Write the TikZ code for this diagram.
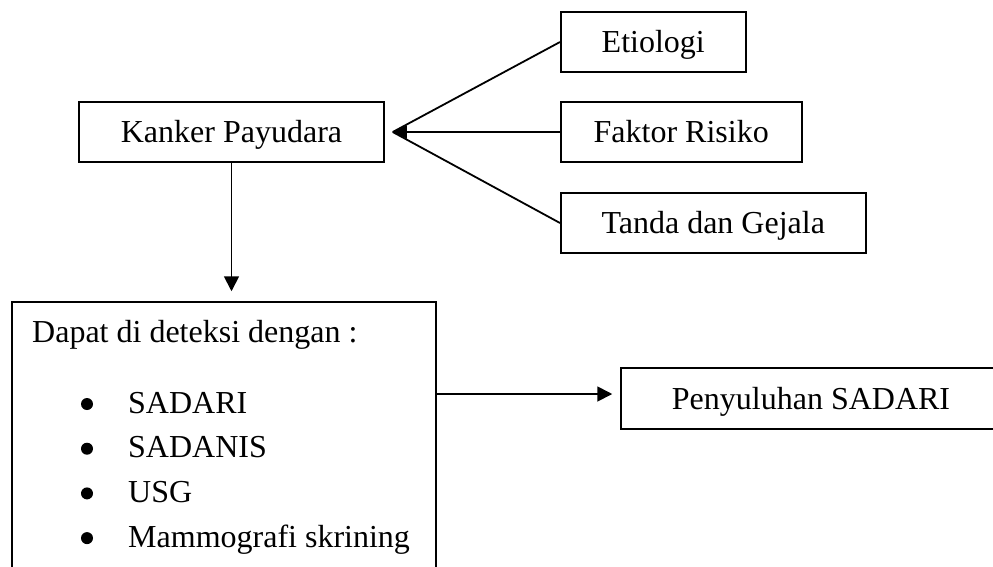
\documentclass[tikz,border=0pt]{standalone}
\usepackage{fontspec}
\setmainfont{Liberation Serif}
\usepackage{tikz}
\usetikzlibrary{arrows.meta}

\tikzset{
    box/.style={draw, line width=1.5pt, inner sep=0pt, minimum height=60pt,
        font=\fontsize{32}{38}\selectfont, text height=21pt, text depth=0pt},
    label/.style={inner sep=0pt, font=\fontsize{32}{38}\selectfont},
    dot/.style={circle, fill, inner sep=0pt, minimum size=12pt},
    link/.style={line width=1.8pt},
    arrow/.style={line width=1.8pt, -{Triangle[length=15pt,width=15pt]}}
}

\begin{document}
\begin{tikzpicture}[x=1pt,y=-1pt]

    % Define parameters
    \def\rightCol{560}   % left edge of the three cause boxes
    \def\gap{8}          % space between arrow tip and box
    \def\lineSkip{44.7}  % distance between list items

    \useasboundingbox (0,0) rectangle (993,566);

    % Main boxes
    \node[box, minimum width=305pt] (kanker) at (231.5,132) {Kanker Payudara};
    \node[box, minimum width=185pt, anchor=west] (etiologi) at (\rightCol,42) {Etiologi};
    \node[box, minimum width=241pt, anchor=west] (faktor) at (\rightCol,132) {Faktor Risiko};
    \node[box, minimum width=305pt, anchor=west] (tanda) at (\rightCol,223) {Tanda dan Gejala};

    % Detection box (runs past the bottom of the page)
    \node[box, minimum width=424pt, minimum height=300pt] (deteksi) at (224,452) {};
    \node[box, minimum width=380pt, minimum height=61pt] (penyuluhan) at (811,398.5) {Penyuluhan SADARI};

    % Text inside the detection box
    \node[label, anchor=base west] (judul) at (32,342) {Dapat di deteksi dengan :};
    \foreach \entry [count=\i] in {SADARI, SADANIS, USG, Mammografi skrining} {
        \pgfmathsetmacro{\y}{413 + (\i-1) * \lineSkip}
        \node[dot] (dot\i) at (87,\y-9) {};
        \node[label, anchor=base west] (entry\i) at (128,\y) {\entry};
    }

    % Connectors
    \coordinate (tip) at ([xshift=\gap pt]kanker.east);
    \draw[link] (etiologi.west) -- (tip);
    \draw[link] (tanda.west) -- (tip);
    \draw[arrow, -{Triangle[length=14pt,width=13pt]}] (faktor.west) -- (tip);

    \draw[arrow] (kanker.south) -- ([yshift=10pt]kanker.south |- deteksi.north);

    \coordinate (pin) at ([yshift=4.5pt]penyuluhan.west);
    \draw[arrow] (pin -| deteksi.east) -- ([xshift=-\gap pt]pin);

\end{tikzpicture}
\end{document}
